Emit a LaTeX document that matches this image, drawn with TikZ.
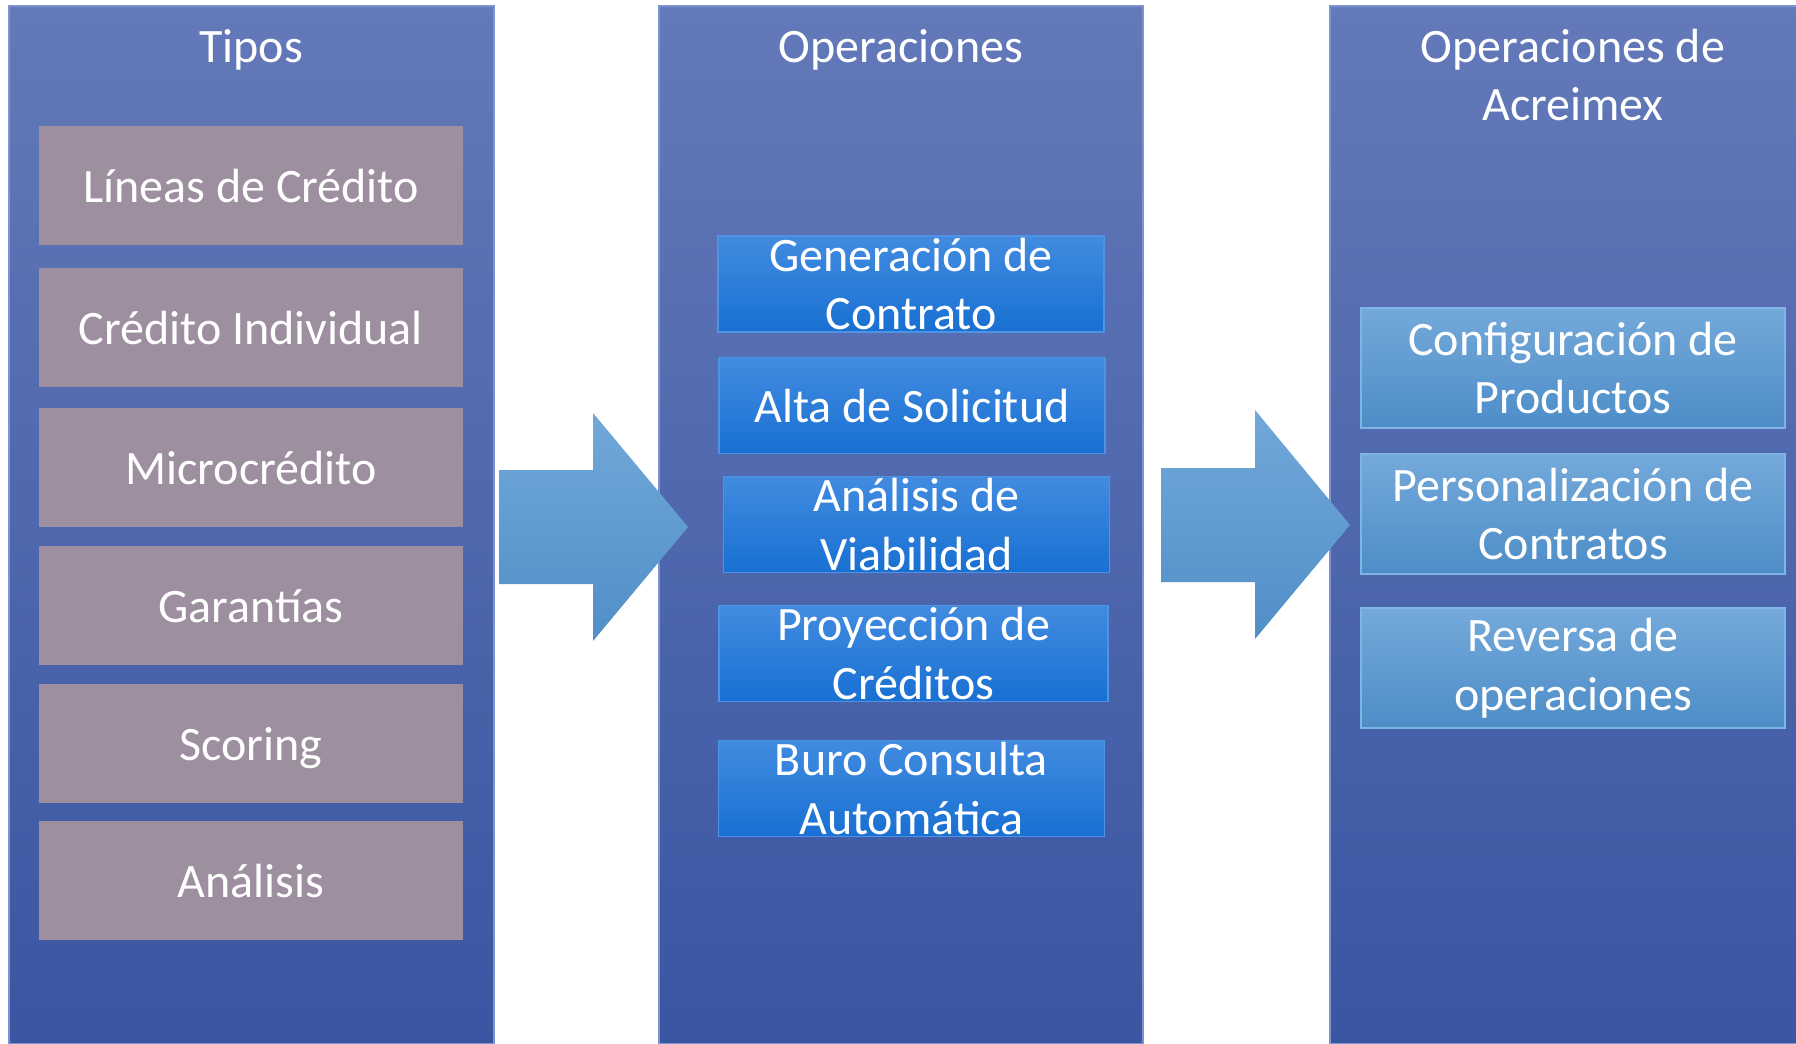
\documentclass[tikz,border=0pt]{standalone}
\usepackage{fontspec}
\setmainfont{Carlito}
\definecolor{panelTop}{RGB}{99,121,185}
\definecolor{panelBot}{RGB}{58,86,162}
\definecolor{panelEdge}{RGB}{125,148,208}
\definecolor{grayFill}{RGB}{157,143,160}
\definecolor{opTop}{RGB}{66,139,224}
\definecolor{opBot}{RGB}{24,112,210}
\definecolor{opEdge}{RGB}{78,147,230}
\definecolor{acTop}{RGB}{116,169,218}
\definecolor{acBot}{RGB}{77,141,200}
\definecolor{acEdge}{RGB}{128,180,228}
\definecolor{arTop}{RGB}{114,168,218}
\definecolor{arBot}{RGB}{80,143,199}
\begin{document}
\begin{tikzpicture}[x=0.5pt,y=-0.5pt,
  txt/.style={text=white, font=\fontsize{24}{29.2}\selectfont, align=center},
  oneline/.style={text height=20pt, text depth=3pt},
  panel/.style={rectangle, draw=panelEdge, line width=0.6pt, top color=panelTop, bottom color=panelBot, inner sep=0pt, minimum height=519pt},
  title/.style={txt, inner sep=0pt},
  graybox/.style={txt, oneline, rectangle, fill=grayFill, inner sep=0pt, minimum width=212pt, minimum height=59.5pt},
  opbox/.style={txt, rectangle, draw=opEdge, line width=0.6pt, top color=opTop, bottom color=opBot, inner sep=0pt, minimum width=193pt, minimum height=48pt},
  acbox/.style={txt, rectangle, draw=acEdge, line width=0.6pt, top color=acTop, bottom color=acBot, inner sep=0pt, minimum width=212pt, minimum height=60pt},
  bigarrow/.style={top color=arTop, bottom color=arBot, draw=none}
]
\useasboundingbox (0,0) rectangle (1796,1044);
\fill[white] (0,0) rectangle (1796,1044);

% panels
\node[panel, minimum width=242.5pt] (p1) at (251.5,525) {};
\node[panel, minimum width=242pt] (p2) at (901,525) {};
\node[panel, minimum width=235pt] (p3) at (1565,525) {};

% titles
\node[title, anchor=base] (t1) at (251,62) {Tipos};
\node[title, anchor=base] (t2) at (901,62) {Operaciones};
\node[title] (t3) at (1573,75) {Operaciones de\\Acreimex};

% arrows
\path[bigarrow] (499,470) -- (593,470) -- (593,413) -- (688,527) -- (593,641) -- (593,584) -- (499,584) -- cycle;
\path[bigarrow] (1161,468) -- (1255,468) -- (1255,410) -- (1350,525) -- (1255,639) -- (1255,582) -- (1161,582) -- cycle;

% tipos
\node[graybox] (g1) at (251,185.5) {Líneas de Crédito};
\node[graybox] (g2) at (251,327) {Crédito Individual};
\node[graybox] (g3) at (251,467) {Microcrédito};
\node[graybox] (g4) at (251,605) {Garantías};
\node[graybox] (g5) at (251,743) {Scoring};
\node[graybox] (g6) at (251,880.5) {Análisis};

% operaciones
\node[opbox] (o1) at (911,284) {Generación de\\Contrato};
\node[opbox, oneline] (o2) at (912,405.5) {Alta de Solicitud};
\node[opbox] (o3) at (916.5,524.5) {Análisis de\\Viabilidad};
\node[opbox, minimum width=194.5pt] (o4) at (913.5,653.5) {Proyección de\\Créditos};
\node[opbox] (o5) at (911.5,788.5) {Buro Consulta\\Automática};

% acreimex
\node[acbox] (a1) at (1573,368) {Configuración de\\Productos};
\node[acbox] (a2) at (1573,514) {Personalización de\\Contratos};
\node[acbox] (a3) at (1573,668) {Reversa de\\operaciones};
\end{tikzpicture}
\end{document}
